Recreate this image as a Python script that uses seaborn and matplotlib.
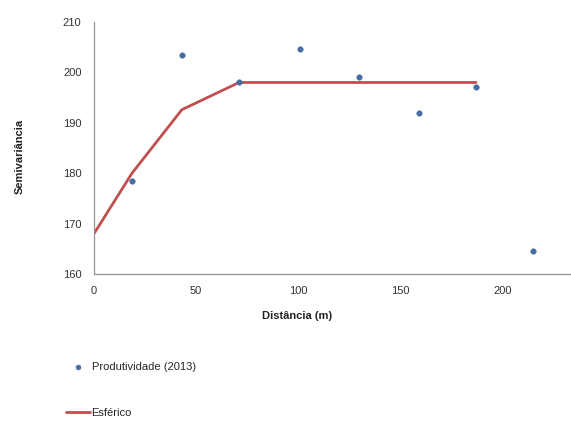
import numpy as np
import pandas as pd
import seaborn as sns
from matplotlib import pyplot as plt

# lag distances (m) and experimental semivariance
distancia = [18.6, 43.0, 71.0, 101.0, 129.5, 159.0, 187.0, 214.7]
semivariancia = [178.5, 203.5, 198.1, 204.7, 199.1, 192.0, 197.1, 164.5]

# spherical model evaluated at lags
dist_modelo = [0, 18.6, 43.0, 71.0, 101.0, 129.5, 159.0, 187.0]
esferico = [168.0, 180.0, 192.6, 198.0, 198.0, 198.0, 198.0, 198.0]

sns.set_style("white")
plt.rcParams['font.family'] = ['Liberation Sans', 'DejaVu Sans']

pts = pd.DataFrame({"x": distancia, "y": semivariancia})
mod = pd.DataFrame({"x": dist_modelo, "y": esferico})

fig = plt.figure(figsize=(5.71, 4.22), dpi=100)
ax = fig.add_axes([94/571, 1-274/422, (570-94)/571, (274-22)/422])

sns.scatterplot(x="x", y="y", data=pts, ax=ax, color="#456da3", s=16, marker="o",
                edgecolor="#456da3", label="Produtividade (2013)", zorder=3)
sns.lineplot(x="x", y="y", data=mod, ax=ax, color="#C0504D", linewidth=2,
             label="Esférico", zorder=2)

ax.set_xlim(0, 233)
ax.set_ylim(160, 210)
ax.set_xticks([0, 50, 100, 150, 200])
ax.set_yticks([160, 170, 180, 190, 200, 210])
ax.set_xlabel("")
ax.set_ylabel("")
for s in ["top", "right"]:
    ax.spines[s].set_visible(False)
for s in ["left", "bottom"]:
    ax.spines[s].set_color("#969696")
    ax.spines[s].set_linewidth(0.9)
ax.tick_params(axis="both", direction="out", length=3, width=0.8, color="#969696",
               labelsize=8, labelcolor="#333333")
ax.tick_params(axis="y", pad=6)
ax.tick_params(axis="x", pad=6)

fig.text(297/571, 1-316/422, "Distância (m)", ha="center", va="center",
         fontsize=8, fontweight="bold", color="#222222")
fig.text(20/571, 1-156/422, "Semivariância", ha="center", va="center",
         rotation=90, fontsize=8, fontweight="bold", color="#222222")

ax.legend(loc="upper left", bbox_to_anchor=(56/571, 1-352/422),
          bbox_transform=fig.transFigure, frameon=False, fontsize=8,
          labelspacing=3.2, handlelength=2.2, handletextpad=0.1, markerscale=0.9)

plt.savefig("out.png", dpi=100)
